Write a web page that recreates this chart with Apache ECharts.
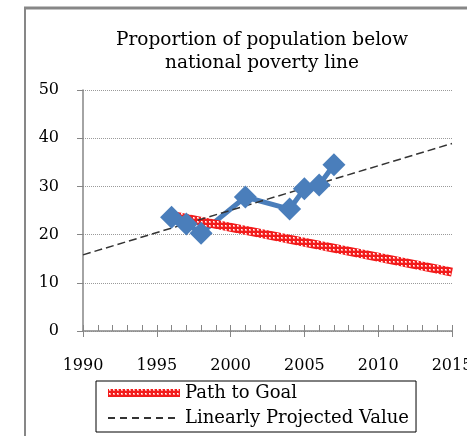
<!DOCTYPE html>
<html>
<head>
<meta charset="utf-8">
<script src="https://cdn.jsdelivr.net/npm/echarts@6/dist/echarts.min.js"></script>
<style>
  html, body { margin: 0; padding: 0; background: #fff; }
  #chart { width: 467px; height: 436px; }
</style>
</head>
<body>
<div id="chart"></div>
<script>
// observed values
const actualYears = [1996, 1997, 1998, 2001, 2004, 2005, 2006, 2007]
const actualValues = [23.6, 22.2, 20.3, 27.8, 25.3, 29.5, 30.3, 34.5]
// path to goal
const goalYears = [1996, 2015]
const goalValues = [24.0, 12.2]
// linear projection
const projYears = [1990, 2015]
const projValues = [15.8, 38.9]

const font = 'DejaVu Serif'
const axisGray = '#868686'

const pair = (xs, ys) => xs.map((x, i) => [x, ys[i]])

// red band with small white dots
function dotPattern() {
  const c = document.createElement('canvas')
  c.width = 4
  c.height = 4
  const ctx = c.getContext('2d')
  ctx.fillStyle = '#f21c1c'
  ctx.fillRect(0, 0, 4, 4)
  ctx.fillStyle = '#f99'
  ctx.fillRect(1, 1, 2, 2)
  ctx.fillStyle = '#ffffff'
  ctx.fillRect(1, 1, 1, 1)
  return c
}
const redDots = { image: dotPattern(), repeat: 'repeat' }

const chart = echarts.init(document.getElementById('chart'))
chart.setOption({
  animation: false,
  backgroundColor: '#fff',
  title: {
    text: 'Proportion of population below\nnational poverty line',
    left: 257,
    textAlign: 'center',
    top: 24,
    textStyle: {
      fontFamily: font,
      fontSize: 18.5,
      fontWeight: 'normal',
      color: '#000',
      lineHeight: 23
    }
  },
  graphic: [
    { type: 'line', shape: { x1: 24, y1: 8, x2: 467, y2: 8 }, style: { stroke: '#878787', lineWidth: 3 } },
    { type: 'line', shape: { x1: 25, y1: 8, x2: 25, y2: 436 }, style: { stroke: '#878787', lineWidth: 2 } }
  ],
  grid: {
    left: 83,
    right: 15,
    top: 90,
    bottom: 105,
    outerBoundsMode: 'none'
  },
  legend: {
    data: [
      { name: 'Path to Goal', lineStyle: { width: 8 } },
      { name: 'Linearly Projected Value', lineStyle: { type: [7, 5] } }
    ],
    orient: 'vertical',
    left: 96,
    top: 381,
    padding: [3, 7, 5, 8],
    itemGap: 7,
    itemWidth: 72,
    itemHeight: 10,
    itemStyle: { opacity: 0 },
    borderColor: '#000',
    borderWidth: 1,
    textStyle: {
      fontFamily: font,
      fontSize: 18,
      color: '#000'
    }
  },
  xAxis: [
    {
      type: 'value',
      min: 1990,
      max: 2015,
      interval: 5,
      axisLine: { lineStyle: { color: axisGray, width: 1.5 } },
      axisTick: { inside: true, length: 6, lineStyle: { color: axisGray } },
      minorTick: { show: true, splitNumber: 5, length: 6, lineStyle: { color: axisGray } },
      splitLine: { show: false },
      axisLabel: {
        margin: 27,
        fontFamily: font,
        fontSize: 16,
        color: '#000',
        formatter: (v) => String(v)
      }
    },
    {
      type: 'value',
      position: 'bottom',
      min: 1990,
      max: 2015,
      interval: 5,
      axisLine: { show: false },
      axisTick: { length: 6, lineStyle: { color: axisGray } },
      splitLine: { show: false },
      axisLabel: { show: false }
    }
  ],
  yAxis: {
    type: 'value',
    min: 0,
    max: 50,
    interval: 10,
    axisLine: { show: true, lineStyle: { color: axisGray, width: 1.5 } },
    axisTick: { show: true, length: 6, lineStyle: { color: axisGray } },
    splitLine: { lineStyle: { color: '#9a9a9a', type: [1, 1], width: 1 } },
    axisLabel: {
      margin: 24,
      fontFamily: font,
      fontSize: 16,
      color: '#000'
    }
  },
  series: [
    {
      name: 'Actual',
      type: 'line',
      data: pair(actualYears, actualValues),
      symbol: 'diamond',
      symbolSize: 23,
      itemStyle: { color: '#4a7ebb' },
      lineStyle: { color: '#4a7ebb', width: 5 }
    },
    {
      name: 'Path to Goal',
      type: 'line',
      data: pair(goalYears, goalValues),
      symbol: 'none',
      itemStyle: { color: '#f21c1c' },
      lineStyle: { color: redDots, width: 9 }
    },
    {
      name: 'Linearly Projected Value',
      type: 'line',
      data: pair(projYears, projValues),
      symbol: 'none',
      itemStyle: { color: '#333' },
      lineStyle: { color: '#333', width: 1.5, type: [8, 4] }
    }
  ]
})
</script>
</body>
</html>
